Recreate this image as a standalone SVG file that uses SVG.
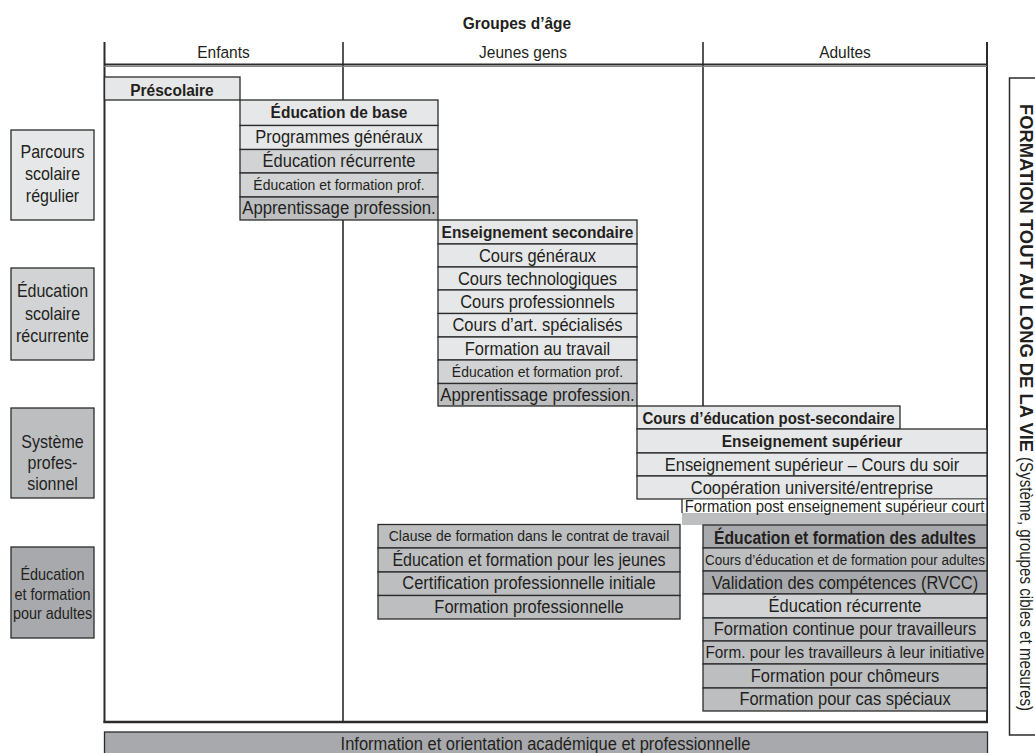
<svg xmlns="http://www.w3.org/2000/svg" width="1035" height="753" viewBox="0 0 1035 753">
<style>
.bx{stroke:#2b2b2b;stroke-width:1.3}
.l0{fill:#ffffff}.l1{fill:#e6e7e8}.l2{fill:#d1d3d4}.l3{fill:#bcbec0}.l4{fill:#a7a9ac}
text{font-family:'Liberation Sans',Arial,sans-serif;font-size:18.3px;fill:#231f20;text-anchor:middle}
text:not(.v){transform-box:fill-box;transform-origin:center;transform:scaleX(0.9)}
.bd{font-weight:bold;font-size:17.2px}
.sm{font-size:15.5px}
.hd{font-size:17.2px}
.lf{font-size:17.8px}
.fr{stroke:#2b2b2b;fill:none}
</style>
<rect width="1035" height="753" fill="#ffffff"/>

<g id="connectors" class="fr">
<line x1="104.5" y1="42" x2="104.5" y2="723" stroke-width="2"/>
<line x1="343" y1="42" x2="343" y2="722" stroke-width="1.6"/>
<line x1="703" y1="42" x2="703" y2="406" stroke-width="1.6"/>
<line x1="987" y1="42" x2="987" y2="723" stroke-width="2"/>
<line x1="104" y1="64.5" x2="987" y2="64.5" stroke-width="2"/>
<line x1="104" y1="66.5" x2="987" y2="66.5" stroke="#8a8a8a" stroke-width="1"/>
<line x1="103.5" y1="722" x2="988" y2="722" stroke-width="2.6"/>
</g>

<g id="title">
<text class="bd" x="517" y="29">Groupes d’âge</text>
<text class="hd" x="223.5" y="58">Enfants</text>
<text class="hd" x="523" y="58">Jeunes gens</text>
<text class="hd" x="845" y="58">Adultes</text>
</g>

<g id="n-parcours">
<rect class="bx l1" x="11" y="130" width="83" height="90"/>
<text class="lf" x="52.5" y="158">Parcours</text>
<text class="lf" x="52.5" y="180">scolaire</text>
<text class="lf" x="52.5" y="202">régulier</text>
</g>
<g id="n-recurrente">
<rect class="bx l2" x="11" y="268" width="83" height="92"/>
<text class="lf" x="52.5" y="297">Éducation</text>
<text class="lf" x="52.5" y="320">scolaire</text>
<text class="lf" x="52.5" y="342">récurrente</text>
</g>
<g id="n-systeme">
<rect class="bx l3" x="11" y="408" width="83" height="90"/>
<text class="lf" x="52.5" y="448">Système</text>
<text class="lf" x="52.5" y="469">profes-</text>
<text class="lf" x="52.5" y="490">sionnel</text>
</g>
<g id="n-adultes">
<rect class="bx l4" x="11" y="547" width="83" height="91"/>
<text x="52.5" y="580" style="font-size:16px">Éducation</text>
<text x="52.5" y="600" style="font-size:16px">et formation</text>
<text x="52.5" y="619" style="font-size:16px">pour adultes</text>
</g>

<g id="n-prescolaire">
<rect class="bx l1" x="104.5" y="77" width="135.5" height="23"/>
<text class="bd" x="172" y="96">Préscolaire</text>
</g>

<g id="n-base">
<rect class="bx l1" x="240" y="100" width="198" height="25.5"/>
<text class="bd" x="339" y="118">Éducation de base</text>
<rect class="bx l1" x="240" y="125.5" width="198" height="24"/>
<text x="339" y="143">Programmes généraux</text>
<rect class="bx l2" x="240" y="149.5" width="198" height="23.5"/>
<text x="339" y="167">Éducation récurrente</text>
<rect class="bx l2" x="240" y="173" width="198" height="24"/>
<text class="sm" x="339" y="190">Éducation et formation prof.</text>
<rect class="bx l3" x="240" y="197" width="198" height="23"/>
<text x="339" y="214" textLength="215" lengthAdjust="spacingAndGlyphs">Apprentissage profession.</text>
</g>

<g id="n-secondaire">
<rect class="bx l1" x="438" y="220" width="199" height="24"/>
<text class="bd" x="537.5" y="238">Enseignement secondaire</text>
<rect class="bx l1" x="438" y="244" width="199" height="23"/>
<text x="537.5" y="262">Cours généraux</text>
<rect class="bx l1" x="438" y="267" width="199" height="23"/>
<text x="537.5" y="285">Cours technologiques</text>
<rect class="bx l1" x="438" y="290" width="199" height="23.5"/>
<text x="537.5" y="308">Cours professionnels</text>
<rect class="bx l1" x="438" y="313.5" width="199" height="23.5"/>
<text x="537.5" y="331">Cours d’art. spécialisés</text>
<rect class="bx l1" x="438" y="337" width="199" height="23"/>
<text x="537.5" y="355">Formation au travail</text>
<rect class="bx l2" x="438" y="360" width="199" height="23.5"/>
<text class="sm" x="537.5" y="377">Éducation et formation prof.</text>
<rect class="bx l3" x="438" y="383.5" width="199" height="22.5"/>
<text x="537.5" y="401" textLength="216" lengthAdjust="spacingAndGlyphs">Apprentissage profession.</text>
</g>

<g id="n-postsecondaire">
<rect class="bx l1" x="637" y="406" width="263" height="23"/>
<text class="bd" x="768.5" y="424" style="font-size:16.7px">Cours d’éducation post-secondaire</text>
</g>

<g id="n-superieur">
<rect class="bx l1" x="637" y="429" width="350" height="24"/>
<text class="bd" x="812" y="447">Enseignement supérieur</text>
<rect class="bx l1" x="637" y="453" width="350" height="23"/>
<text x="812" y="471">Enseignement supérieur – Cours du soir</text>
<rect class="bx l1" x="637" y="476" width="350" height="23"/>
<text x="812" y="494">Coopération université/entreprise</text>
</g>

<g id="n-postcourt">
<rect class="l0" x="682" y="499.6" width="305" height="13.4"/>
<rect class="l3" x="682" y="513" width="305" height="12"/>
<line x1="682" y1="499" x2="682" y2="513" stroke="#2b2b2b" stroke-width="1.3"/>
<line x1="987" y1="499" x2="987" y2="525" stroke="#2b2b2b" stroke-width="1.3"/>
<text x="834.5" y="512.5" style="font-size:17.2px" textLength="333" lengthAdjust="spacingAndGlyphs">Formation post enseignement supérieur court</text>
</g>

<g id="n-jeunes">
<rect class="bx l3" x="378" y="524.5" width="302" height="23.5"/>
<text class="sm" x="529" y="541">Clause de formation dans le contrat de travail</text>
<rect class="bx l3" x="378" y="548" width="302" height="24"/>
<text x="529" y="566" style="font-size:17.8px">Éducation et formation pour les jeunes</text>
<rect class="bx l3" x="378" y="572" width="302" height="23.5"/>
<text x="529" y="589">Certification professionnelle initiale</text>
<rect class="bx l3" x="378" y="595.5" width="302" height="23.5"/>
<text x="529" y="613">Formation professionnelle</text>
</g>

<g id="n-formadultes">
<rect class="bx l4" x="703" y="525" width="284" height="23"/>
<text class="bd" x="845" y="544" style="font-size:18.8px" textLength="291" lengthAdjust="spacingAndGlyphs">Éducation et formation des adultes</text>
<rect class="bx l3" x="703" y="548" width="284" height="23"/>
<text class="sm" x="845" y="565" textLength="311" lengthAdjust="spacingAndGlyphs">Cours d’éducation et de formation pour adultes</text>
<rect class="bx l4" x="703" y="571" width="284" height="23"/>
<text x="845" y="589">Validation des compétences (RVCC)</text>
<rect class="bx l2" x="703" y="594" width="284" height="24"/>
<text x="845" y="612">Éducation récurrente</text>
<rect class="bx l3" x="703" y="618" width="284" height="23"/>
<text x="845" y="635">Formation continue pour travailleurs</text>
<rect class="bx l3" x="703" y="641" width="284" height="23"/>
<text x="845" y="658" style="font-size:17.2px" textLength="310" lengthAdjust="spacingAndGlyphs">Form. pour les travailleurs à leur initiative</text>
<rect class="bx l3" x="703" y="664" width="284" height="24"/>
<text x="845" y="682">Formation pour chômeurs</text>
<rect class="bx l3" x="703" y="688" width="284" height="23"/>
<text x="845" y="705">Formation pour cas spéciaux</text>
</g>

<g id="n-information">
<rect class="bx l4" x="104.5" y="732" width="883" height="25"/>
<text x="545.5" y="750">Information et orientation académique et professionnelle</text>
</g>

<g id="n-formation-vie">
<rect x="1009.5" y="78" width="40" height="657" fill="#ffffff" stroke="#2b2b2b" stroke-width="1.5"/>
<text class="v" transform="translate(1020,104) rotate(90)" style="text-anchor:start;font-size:18px;font-weight:bold" textLength="348" lengthAdjust="spacingAndGlyphs">FORMATION TOUT AU LONG DE LA VIE</text>
<text class="v" transform="translate(1020,457) rotate(90)" style="text-anchor:start;font-size:17.5px" textLength="254" lengthAdjust="spacingAndGlyphs">(Système, groupes cibles et mesures)</text>
</g>
</svg>
